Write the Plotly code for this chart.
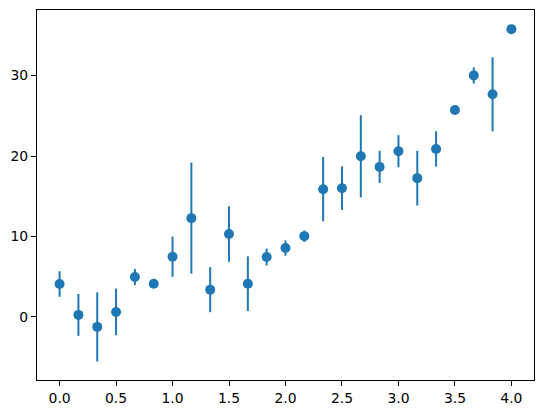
import plotly.graph_objects as go

# sample positions (0 to 4 in steps of 1/6)
x_vals = [0.0, 0.1667, 0.3333, 0.5, 0.6667, 0.8333, 1.0, 1.1667, 1.3333, 1.5,
          1.6667, 1.8333, 2.0, 2.1667, 2.3333, 2.5, 2.6667, 2.8333, 3.0, 3.1667,
          3.3333, 3.5, 3.6667, 3.8333, 4.0]
y_vals = [4.09, 0.25, -1.24, 0.62, 4.96, 4.13, 7.48, 12.28, 3.39, 10.30,
          4.13, 7.45, 8.56, 10.04, 15.88, 16.0, 19.97, 18.65, 20.6, 17.25,
          20.88, 25.72, 30.02, 27.67, 35.77]
y_err = [1.6, 2.6, 4.3, 2.9, 1.0, 0.3, 2.5, 6.9, 2.8, 3.45,
         3.4, 1.05, 0.95, 0.7, 4.0, 2.7, 5.1, 2.0, 2.0, 3.4,
         2.2, 0.3, 1.0, 4.6, 0.3]

blue = "#1f77b4"

fig = go.Figure()
fig.add_trace(
    go.Scatter(
        x=x_vals,
        y=y_vals,
        mode="markers",
        marker=dict(size=10, color=blue),
        error_y=dict(type="data", array=y_err, visible=True, color=blue, thickness=2, width=0),
        showlegend=False,
    )
)

axis_style = dict(
    showgrid=False,
    zeroline=False,
    showline=True,
    linecolor="black",
    linewidth=1.1,
    mirror=True,
    ticks="outside",
    ticklen=5,
    tickwidth=1.1,
    tickcolor="black",
    automargin=False,
    tickfont=dict(family="DejaVu Sans", size=13.9, color="black"),
)

fig.update_layout(
    width=543,
    height=413,
    margin=dict(l=37, r=9, t=10, b=33),
    paper_bgcolor="white",
    plot_bgcolor="white",
    xaxis=dict(range=[-0.2, 4.2], dtick=0.5, tick0=0, tickformat=".1f", **axis_style),
    yaxis=dict(range=[-7.84, 38.15], dtick=10, tick0=0, **axis_style),
)

# drop the browser's default body margin so the figure sits at the page corner
fig.write_html(
    "out.html",
    config={"displayModeBar": False},
    post_script="document.body.style.margin = '0';",
)
